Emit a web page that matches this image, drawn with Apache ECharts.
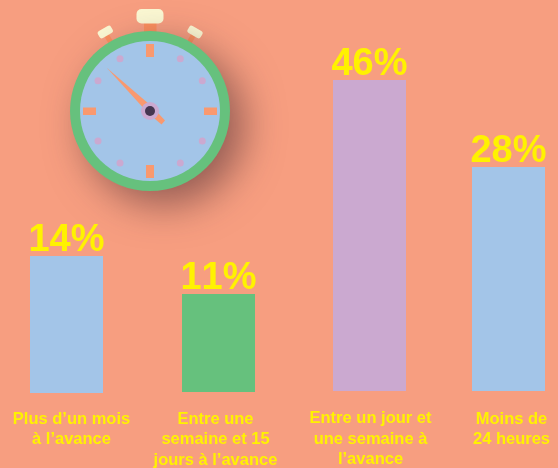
<!DOCTYPE html>
<html><head><meta charset="utf-8">
<style>html,body{margin:0;padding:0;background:#F79E80}#c{width:558px;height:468px}</style>
<script src="https://cdn.jsdelivr.net/npm/echarts@6/dist/echarts.min.js"></script>
</head><body><div id="c"></div>
<script>
const categories = ['Plus d’un mois\nà l’avance','Entre une\nsemaine et 15\njours à l’avance','Entre un jour et\nune semaine à\nl’avance','Moins de\n24 heures'];
const values = [14, 11, 46, 28];
const barColors = ['#A3C5E8','#66C17D','#CBA9D0','#A3C5E8'];

// The reference's bars are not drawn to one common scale, so each has its own panel.
const panels = [
  {left:30, width:73, top:256, height:137, margin:16, shift:5},
  {left:182,width:73, top:294, height:98,  margin:17, shift:-3},
  {left:333,width:73, top:80,  height:311, margin:17.5, shift:1},
  {left:472,width:73, top:167, height:224, margin:18, shift:3}
];
const BG='#F79E80', YEL='#FFF200', GREEN='#66C17D', BLUE='#A3C5E8', PURPLE='#CBA9D0', ORANGE='#FB8F5E', SALMON='#F9996F', CREAM='#FBF8D3', DARK='#453650';
const FONT='"Liberation Sans", Arial, sans-serif';

// The reference sets its digits without kerning.
const origGetContext = HTMLCanvasElement.prototype.getContext;
HTMLCanvasElement.prototype.getContext = function(){
  const ctx = origGetContext.apply(this, arguments);
  if (ctx && 'fontKerning' in ctx) ctx.fontKerning = 'none';
  return ctx;
};

const CX=150, CY=111;
const g=[];
const rect=(x,y,w,h,fill,r)=>({type:'rect',shape:{x,y,width:w,height:h,r:r||0},style:{fill}});
const circ=(cx,cy,r,fill,extra)=>({type:'circle',shape:{cx,cy,r},style:Object.assign({fill},extra||{})});
function sideBtn(x,y,rot,sx,sy){
  g.push({type:'rect',x:sx,y:sy,rotation:rot,shape:{x:-2.5,y:-8,width:5,height:12},style:{fill:ORANGE}});
  g.push({type:'rect',x:x,y:y,rotation:rot,shape:{x:-7.5,y:-4,width:15,height:8,r:2.5},style:{fill:CREAM}});
}
g.push(rect(144,22,12.5,12,ORANGE));
g.push(rect(136.5,9,27,14.5,CREAM,5));
sideBtn(105.3,32,Math.PI/6,108.5,38.5);
sideBtn(195,32,-Math.PI/6,191.5,38.5);
g.push(circ(CX,CY,80,GREEN,{shadowBlur:38,shadowOffsetX:14,shadowOffsetY:14,shadowColor:'rgba(70,40,50,0.55)'}));
g.push(circ(CX,CY,70,BLUE));
g.push(rect(146,44,8,13,SALMON), rect(146,165,8,13,SALMON), rect(83,107.5,13,7.5,SALMON), rect(204,107.5,13,7.5,SALMON));
[[120,58.7],[180.3,58.7],[98,80.7],[202.3,80.7],[98,141],[202.3,141],[120,163],[180.3,163]].forEach(p=>g.push(circ(p[0],p[1],3.5,PURPLE)));
g.push({type:'polygon',shape:{points:[[106.7,67.7],[152.5,107],[165,120.5],[161.5,124.5],[147.5,112.5]]},style:{fill:SALMON}});
g.push(circ(CX,CY,9,PURPLE), circ(CX,CY,5,DARK));

const chart=echarts.init(document.getElementById('c'),null,{renderer:'canvas'});
chart.setOption({
  backgroundColor:BG,
  animation:false,
  graphic:{elements:g.map(e=>Object.assign({z:1},e))},
  grid:panels.map(p=>({left:p.left,width:p.width,top:p.top,height:p.height,containLabel:false,outerBoundsMode:'none'})),
  xAxis:panels.map((p,i)=>({
    type:'category',gridIndex:i,data:[categories[i]],
    axisLine:{show:false},axisTick:{show:false},
    axisLabel:{interval:0,margin:p.margin,color:YEL,fontFamily:FONT,fontWeight:'bold',fontSize:16.5,lineHeight:20.5,
      align:'center',verticalAlign:'top',
      padding:p.shift>=0?[0,0,0,p.shift*2]:[0,-p.shift*2,0,0]}
  })),
  yAxis:panels.map((p,i)=>({type:'value',gridIndex:i,min:0,max:values[i],show:false})),
  series:panels.map((p,i)=>({
    type:'bar',xAxisIndex:i,yAxisIndex:i,barWidth:'100%',
    data:[values[i]],itemStyle:{color:barColors[i]},
    label:{show:true,position:'top',distance:-4,color:YEL,fontFamily:FONT,fontWeight:'bold',fontSize:38,
      formatter:o=>o.value+'%'}
  }))
});
</script></body></html>
